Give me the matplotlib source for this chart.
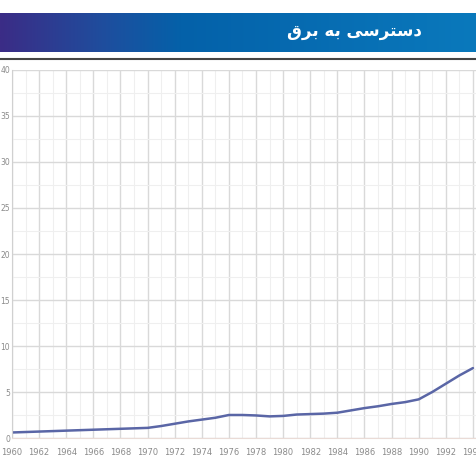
import numpy as np
import matplotlib
matplotlib.use("Agg")
import matplotlib.pyplot as plt
from matplotlib.colors import LinearSegmentedColormap
from matplotlib.ticker import MultipleLocator

# Data: access to electricity (%)
years = list(range(1960, 1995))
values = [0.6, 0.65, 0.7, 0.75, 0.8, 0.85, 0.9, 0.95, 1.0, 1.05,
          1.1, 1.3, 1.55, 1.8, 2.0, 2.2, 2.5, 2.5, 2.45, 2.35,
          2.4, 2.55, 2.6, 2.65, 2.75, 3.0, 3.25, 3.45, 3.7, 3.9,
          4.2, 5.0, 5.9, 6.8, 7.6]
x_ticks = list(range(1960, 1996, 2))
y_ticks = [0, 5, 10, 15, 20, 25, 30, 35, 40]
# Persian title "دسترسی به برق" in presentation forms, visual order
title = "\uFED5\uFEAE\uFE91 \uFEEA\uFE91 \uFBFD\uFEB3\uFEAE\uFE98\uFEB3\uFEA9"

W, H = 477, 462
fig = plt.figure(figsize=(W / 100, H / 100), dpi=100)
fig.patch.set_facecolor("white")

# Banner with gradient
bax = fig.add_axes([0, (H - 52) / H, 1, 39 / H])
cmap = LinearSegmentedColormap.from_list(
    "banner", [(0, "#3b2c86"), (0.22, "#1e4e9e"), (0.38, "#0461a9"), (1, "#0a79bc")])
grad = np.linspace(0, 1, 256).reshape(1, -1)
bax.imshow(grad, aspect="auto", cmap=cmap, extent=[0, 1, 0, 1])
bax.set_xlim(0, 1)
bax.set_ylim(0, 1)
bax.axis("off")
bax.text(422 / W, 0.55, title, color="white", fontsize=12, fontweight="bold",
         ha="right", va="center", family=["DejaVu Sans", "Noto Sans"])

# Dark rule under the banner
fig.add_artist(plt.Line2D([0, 1], [(H - 59) / H, (H - 59) / H],
                          transform=fig.transFigure, color="#444444", lw=1.5))

# Plot area
ax = fig.add_axes([12 / W, (H - 438) / H, (W - 12) / W, (438 - 70) / H])
ax.plot(years, values, color="#5a66a6", lw=1.8, solid_capstyle="round")
ax.set_xlim(1960, 1994.3)
ax.set_ylim(0, 40)
ax.set_xticks(x_ticks)
ax.set_yticks(y_ticks)
ax.xaxis.set_minor_locator(MultipleLocator(1))
ax.yaxis.set_minor_locator(MultipleLocator(2.5))
ax.grid(which="major", color="#d9d9d9", lw=1.0)
ax.grid(which="minor", color="#efefef", lw=0.8)
ax.set_axisbelow(True)
for s in ax.spines.values():
    s.set_visible(False)
ax.spines["left"].set_visible(True)
ax.spines["left"].set_color("#d0d0d0")
ax.spines["bottom"].set_visible(True)
ax.spines["bottom"].set_color("#eadbd6")
ax.tick_params(which="both", length=0)
ax.tick_params(axis="y", pad=1.5, labelsize=5.5, labelcolor="#8a8a8a")
ax.tick_params(axis="x", pad=7, labelsize=6, labelcolor="#8a8a8a")
for lab in ax.get_xticklabels() + ax.get_yticklabels():
    lab.set_family(["Liberation Sans Narrow", "DejaVu Sans"])

fig.savefig("out.png", dpi=100)
